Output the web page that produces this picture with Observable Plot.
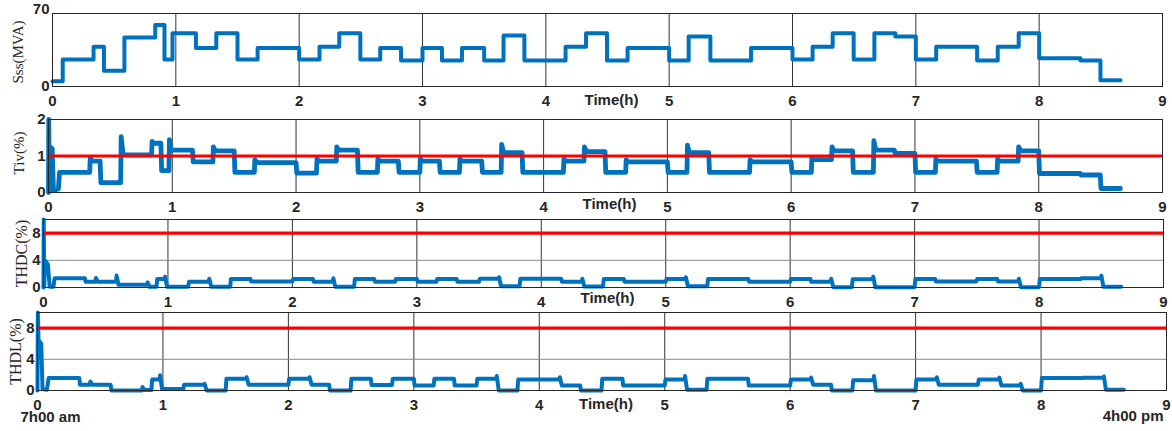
<!DOCTYPE html>
<html><head><meta charset="utf-8">
<script src="https://cdn.jsdelivr.net/npm/d3@7"></script>
<script src="https://cdn.jsdelivr.net/npm/@observablehq/plot@0.6"></script>
<style>
body{margin:0;background:#fff;}
#wrap{position:relative;width:1172px;height:431px;overflow:hidden;background:#fff;}
#wrap svg{position:absolute;left:0;overflow:visible;background:transparent;}
</style></head><body><div id="wrap"></div>
<script>
// ---- data ----
const xTicks = [0,1,2,3,4,5,6,7,8,9];
const segStart = [0, 0.083, 0.333, 0.417, 0.583, 0.833, 0.908, 0.973, 1.163, 1.328, 1.5, 1.663, 2.0, 2.165, 2.325, 2.496, 2.657, 2.826, 3.0, 3.158, 3.32, 3.5, 3.657, 3.826, 4.16, 4.326, 4.496, 4.663, 5.0, 5.158, 5.334, 5.664, 6.0, 6.163, 6.326, 6.496, 6.664, 6.834, 7.0, 7.165, 7.497, 7.664, 7.834, 8.0, 8.335, 8.497];
const endTime = 8.66;
const sss = [5, 26, 38, 15, 47, 59, 26, 51, 37, 51, 26, 37, 26, 38, 51, 26, 37, 25, 37, 25, 37, 25, 49, 25, 38, 51, 25, 37, 25, 48, 25, 37, 26, 38, 51, 26, 51, 48, 26, 38, 25, 38, 51, 27, 25, 6];

const tiv = [null, 0.55, 0.86, 0.27, 1.03, 1.35, 0.6, 1.16, 0.84, 1.14, 0.55, 0.82, 0.53, 0.86, 1.16, 0.55, 0.86, 0.55, 0.86, 0.55, 0.86, 0.55, 1.09, 0.55, 0.86, 1.12, 0.55, 0.84, 0.55, 1.09, 0.55, 0.84, 0.55, 0.9, 1.14, 0.55, 1.16, 1.07, 0.55, 0.86, 0.55, 0.86, 1.14, 0.52, 0.48, 0.11];
const tivPeak = [null, null, 0.95, null, 1.53, 1.4, null, 1.45, null, 1.25, null, 0.9, null, 0.92, 1.25, null, 0.92, null, 0.92, null, 0.92, null, 1.32, null, 0.92, 1.25, null, 0.9, null, 1.3, null, 0.9, null, 0.95, 1.25, null, 1.42, null, null, 0.92, null, 0.92, 1.25, null, null, null];
const tivStartT = [0, 0.002, 0.006, 0.012, 0.03, 0.04, 0.08];
const tivStartV = [0, 2.0, 0.02, 1.25, 1.2, 0.05, 0.1];

const thdc = [null, 1.35, 0.85, 0.85, 0.4, 0.1, 1.25, 0.1, 0.85, 0.1, 1.25, 0.9, 1.25, 0.85, 0.1, 1.25, 0.85, 1.25, 0.85, 1.25, 0.85, 1.3, 0.2, 1.3, 0.85, 0.15, 1.25, 0.85, 1.25, 0.2, 1.25, 0.85, 1.25, 0.85, 0.05, 1.2, 0.05, 0.05, 1.25, 0.9, 1.25, 0.9, 0.05, 1.25, 1.35, 0.1];
const thdcPeak = [null, null, null, 1.4, 1.75, 0.75, null, 1.6, null, 1.3, null, null, null, null, 1.35, null, null, null, null, null, null, null, 1.5, null, null, 1.3, null, null, null, 1.5, null, null, null, null, 1.3, null, 1.6, null, null, null, null, null, 1.3, null, null, 1.75];
const thdcStartT = [0, 0.002, 0.006, 0.012, 0.035, 0.05, 0.08];
const thdcStartV = [0, 10, 0.1, 4.0, 3.4, 0.1, 0.1];

const thdl = [null, 1.6, 0.75, 0.75, 0.0, 0.05, 1.4, 0.2, 0.75, 0.0, 1.5, 0.75, 1.5, 0.75, 0.0, 1.5, 0.7, 1.5, 0.65, 1.5, 0.65, 1.5, 0.0, 1.4, 0.65, 0.0, 1.5, 0.65, 1.4, 0.1, 1.5, 0.65, 1.4, 0.75, 0.0, 1.3, 0.0, 0.0, 1.4, 0.75, 1.4, 0.65, 0.0, 1.6, 1.65, 0.1];
const thdlPeak = [null, null, null, 1.15, null, 0.45, null, 1.95, null, 0.85, null, 1.7, null, 1.7, null, null, null, null, null, null, null, null, 1.85, null, 1.7, null, null, null, null, 1.85, null, null, null, 1.65, null, null, 1.85, null, null, 1.7, null, 1.65, 0.85, null, null, 1.8];
const thdlStartT = [0, 0.003, 0.008, 0.015, 0.03, 0.04, 0.075];
const thdlStartV = [0, 10, 6.5, 6.3, 6.0, 0.2, 0.1];

const limits = {tiv: 1, thdc: 8, thdl: 8};

// ---- build series ----
function stepSeries(startT, startV, levels, peaks) {
  const pts = startT.map((t, i) => ({t, v: startV[i]}));
  for (let i = 1; i < segStart.length; i++) {
    const t0 = segStart[i], t1 = i + 1 < segStart.length ? segStart[i + 1] : endTime;
    if (peaks[i] != null) {
      pts.push({t: t0 + 0.004, v: peaks[i]});
      pts.push({t: t0 + 0.02, v: levels[i]});
    } else {
      pts.push({t: t0 + 0.006, v: levels[i]});
    }
    pts.push({t: t1, v: levels[i]});
  }
  return pts;
}
const sssData = segStart.map((t, i) => ({t, v: sss[i]})).concat([{t: endTime, v: sss[sss.length - 1]}]);
const tivData = stepSeries(tivStartT, tivStartV, tiv, tivPeak);
const thdcData = stepSeries(thdcStartT, thdcStartV, thdc, thdcPeak);
const thdlData = stepSeries(thdlStartT, thdlStartV, thdl, thdlPeak);

const BLUE = "#0072BD", RED = "#FF0000", INK = "#262626";
const SANS = "Liberation Sans, Arial, sans-serif", SERIF = "Liberation Serif, Times New Roman, serif";
const fmt = d => String(d);

function panel(o) {
  const marks = [
    Plot.gridX(xTicks.slice(1, -1), {stroke: "#333", strokeOpacity: 1, strokeWidth: 1}),
    Plot.gridY(o.yGrid, {stroke: "#8a8a8a", strokeOpacity: 1, strokeWidth: 1}),
    Plot.line(o.data, {x: "t", y: "v", stroke: BLUE, strokeWidth: o.sw || 4, curve: o.curve || "linear", strokeLinejoin: "round", strokeLinecap: "round"}),
  ];
  if (o.limit != null) marks.push(Plot.ruleY([o.limit], {stroke: RED, strokeWidth: 3.2}));
  const tickStyle = {tickSize: 0, tickPadding: 3, fontWeight: "bold", fontSize: 15, fontFamily: SANS, fill: INK, label: null, tickFormat: fmt};
  marks.push(
    Plot.frame({stroke: INK, strokeWidth: 1}),
    Plot.axisX(xTicks, {tickSize: 0, tickPadding: 9, fontWeight: "bold", fontSize: 15, fontFamily: SANS, fill: INK, label: null, tickFormat: fmt}),
    Plot.axisY(o.yTicks, tickStyle),
    Plot.text(["Time(h)"], {frameAnchor: "bottom", dx: 4, dy: o.timeDy, fontWeight: "bold", fontSize: 15, fontFamily: SANS, fill: INK}),
    Plot.text([o.label], {frameAnchor: "left", textAnchor: "middle", rotate: -90, dx: o.labelDx, dy: o.labelDy || 0, fontSize: o.labelSize, fontFamily: SERIF, fill: INK})
  );
  if (o.yTopTick != null) marks.push(Plot.axisY([o.yTopTick], {...tickStyle, dy: -4}));
  if (o.extra) marks.push(...o.extra);
  const svg = Plot.plot({
    width: 1172, height: o.height,
    marginTop: o.mt, marginBottom: o.mb, marginLeft: o.ml, marginRight: o.mr,
    x: {domain: [0, 9], axis: null},
    y: {domain: o.yDomain, axis: null},
    style: {background: "transparent", overflow: "visible"},
    marks
  });
  svg.style.top = o.top + "px";
  document.getElementById("wrap").appendChild(svg);
}

panel({top: 0, height: 112, mt: 13, mb: 26, ml: 52, mr: 10, yDomain: [0, 70], yTicks: [0], yTopTick: 70, yGrid: [],
  data: sssData, curve: "step-after", label: "Sss(MVA)", labelDx: -34, labelDy: 2, labelSize: 15, timeDy: 18});
panel({top: 106, height: 108, mt: 13, mb: 22, ml: 48, mr: 10, yDomain: [0, 2], yTicks: [0, 1, 2], yGrid: [1],
  data: tivData, sw: 4.8, label: "Tiv(%)", labelDx: -29, labelDy: -3, labelSize: 15, limit: limits.tiv, timeDy: 16});
panel({top: 206, height: 104, mt: 13, mb: 23, ml: 43, mr: 9, yDomain: [0, 10], yTicks: [0, 4, 8], yGrid: [4, 8],
  data: thdcData, label: "THDC(%)", labelDx: -22, labelSize: 16, limit: limits.thdc, timeDy: 15});
panel({top: 298, height: 133, mt: 14, mb: 41, ml: 37, mr: 6, yDomain: [0, 10], yTicks: [0, 4, 8], yGrid: [4, 8],
  data: thdlData, label: "THDL(%)", labelDx: -22, labelSize: 16, limit: limits.thdl, timeDy: 18,
  extra: [
    Plot.text(["7h00 am"], {frameAnchor: "bottom-left", textAnchor: "start", dx: -17, dy: 31, fontWeight: "bold", fontSize: 15, fontFamily: SANS, fill: INK}),
    Plot.text(["4h00 pm"], {frameAnchor: "bottom-right", textAnchor: "end", dx: -3, dy: 30, fontWeight: "bold", fontSize: 15, fontFamily: SANS, fill: INK})
  ]});
</script>
</body></html>
